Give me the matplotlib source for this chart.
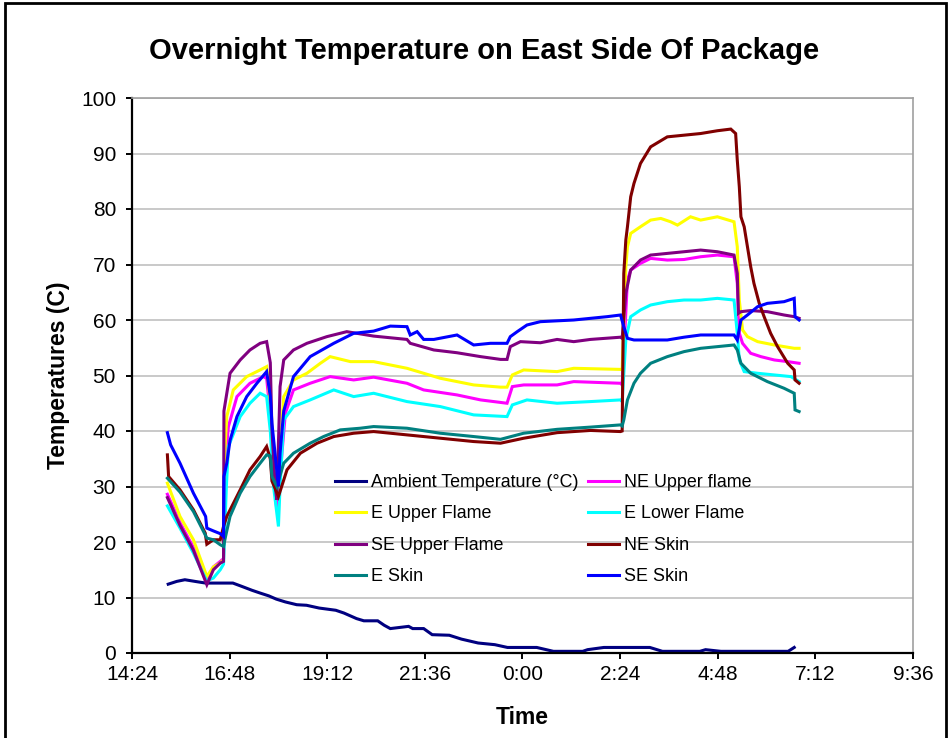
import numpy as np
import matplotlib
matplotlib.use("Agg")
import matplotlib.pyplot as plt
from matplotlib.ticker import FuncFormatter, MultipleLocator
from matplotlib.patches import Rectangle

plt.rcParams['font.family'] = ['Liberation Sans', 'DejaVu Sans']

# time in hours from midnight of the first day (24.0 = 0:00 next day)
amb_t = [15.29, 15.50, 15.70, 15.95, 16.21, 16.88, 17.10, 17.35, 17.55, 17.76, 17.95, 18.17,
         18.45, 18.69, 19.00, 19.41, 19.61, 19.92, 20.10, 20.44, 20.60, 20.75, 21.20, 21.30,
         21.57, 21.78, 22.20, 22.50, 22.91, 23.32, 23.63, 24.35, 24.76, 25.48, 25.60, 26.00,
         27.13, 27.44, 28.36, 28.50, 28.88, 30.53, 30.68]
amb_v = [12.4, 12.9, 13.2, 12.9, 12.6, 12.6, 12.0, 11.3, 10.8, 10.3, 9.7, 9.2,
         8.7, 8.6, 8.1, 7.7, 7.2, 6.2, 5.8, 5.8, 5.0, 4.4, 4.8, 4.4,
         4.4, 3.3, 3.2, 2.5, 1.8, 1.5, 1.0, 1.0, 0.3, 0.3, 0.6, 1.0,
         1.0, 0.3, 0.3, 0.6, 0.3, 0.3, 1.0]

neu_t = [15.27, 15.58, 15.91, 16.24, 16.40, 16.57, 16.65, 16.70, 16.77, 16.98, 17.30, 17.63,
         17.71, 17.80, 17.88, 17.96, 18.04, 18.17, 18.37, 18.78, 19.27, 19.85, 20.34, 21.16,
         21.57, 22.39, 22.97, 23.62, 23.75, 24.03, 24.85, 25.26, 26.41, 26.45, 26.58, 26.66,
         26.90, 27.15, 27.56, 27.97, 28.38, 28.79, 29.20, 29.28, 29.33, 29.41, 29.61, 29.86,
         30.19, 30.52, 30.80]
neu_v = [28.6, 23.5, 19.0, 13.2, 15.5, 16.5, 17.0, 35.0, 40.8, 46.2, 48.6, 49.8,
         49.5, 43.0, 32.0, 25.8, 32.0, 43.2, 47.4, 48.6, 49.8, 49.2, 49.7, 48.6,
         47.4, 46.5, 45.6, 45.0, 48.0, 48.3, 48.3, 48.9, 48.6, 48.3, 67.2, 69.0,
         70.2, 71.1, 70.8, 70.9, 71.4, 71.7, 71.4, 66.6, 57.6, 55.8, 54.0, 53.4,
         52.8, 52.5, 52.2]

eu_t = [15.27, 15.58, 15.91, 16.24, 16.40, 16.57, 16.65, 16.68, 16.73, 16.89, 17.22, 17.55,
        17.71, 17.80, 17.88, 17.96, 18.04, 18.13, 18.37, 18.70, 19.03, 19.27, 19.77, 20.34,
        21.16, 21.98, 22.80, 23.46, 23.62, 23.75, 24.03, 24.85, 25.26, 26.41, 26.45, 26.54,
        26.58, 26.66, 26.90, 27.15, 27.40, 27.64, 27.81, 28.13, 28.38, 28.79, 29.20, 29.28,
        29.33, 29.41, 29.53, 29.78, 30.19, 30.68, 30.80]
eu_v = [30.6, 24.6, 20.4, 13.8, 15.5, 16.2, 16.8, 36.0, 42.6, 47.4, 49.8, 51.0,
        51.6, 45.0, 34.2, 27.6, 36.0, 46.2, 49.2, 50.4, 52.2, 53.4, 52.5, 52.5,
        51.3, 49.5, 48.3, 47.9, 47.9, 50.1, 51.0, 50.7, 51.3, 51.1, 51.0, 69.6,
        73.2, 75.6, 76.8, 78.0, 78.3, 77.7, 77.1, 78.6, 78.0, 78.6, 77.7, 73.2,
        63.6, 58.2, 57.0, 56.1, 55.5, 54.9, 54.9]

el_t = [15.27, 15.58, 15.91, 16.24, 16.40, 16.57, 16.65, 16.72, 16.77, 17.06, 17.30, 17.55,
        17.71, 17.80, 17.88, 18.00, 18.04, 18.13, 18.37, 18.78, 19.36, 19.85, 20.34, 21.16,
        21.98, 22.80, 23.62, 23.75, 24.11, 24.85, 25.67, 26.41, 26.45, 26.54, 26.66, 26.90,
        27.15, 27.56, 27.97, 28.38, 28.79, 29.20, 29.28, 29.33, 29.45, 29.78, 30.19, 30.60,
        30.80]
el_v = [26.5, 22.5, 18.0, 13.0, 13.5, 15.0, 16.0, 30.0, 37.2, 42.6, 45.0, 46.8,
        46.2, 40.0, 30.0, 22.8, 30.0, 42.0, 44.4, 45.6, 47.4, 46.2, 46.8, 45.3,
        44.4, 42.9, 42.6, 44.7, 45.6, 45.0, 45.3, 45.6, 45.3, 56.4, 60.6, 61.8,
        62.7, 63.3, 63.6, 63.6, 63.9, 63.6, 57.6, 52.8, 50.7, 50.4, 50.1, 49.8,
        48.9]

seu_t = [15.27, 15.58, 15.91, 16.24, 16.40, 16.57, 16.65, 16.66, 16.81, 17.06, 17.30, 17.55,
         17.71, 17.80, 17.84, 17.92, 17.96, 18.04, 18.13, 18.37, 18.70, 19.19, 19.68, 20.34,
         21.16, 21.24, 21.82, 22.39, 22.97, 23.46, 23.62, 23.70, 23.95, 24.44, 24.85, 25.26,
         25.67, 26.41, 26.45, 26.54, 26.66, 26.90, 27.15, 27.56, 27.97, 28.38, 28.79, 29.20,
         29.28, 29.31, 29.37, 29.61, 30.02, 30.43, 30.68, 30.80]
seu_v = [28.0, 23.0, 18.5, 12.3, 15.0, 16.2, 16.5, 43.6, 50.4, 52.8, 54.6, 55.8,
         56.1, 52.3, 40.2, 30.0, 27.6, 48.0, 52.8, 54.6, 55.8, 57.0, 57.9, 57.1,
         56.5, 55.8, 54.6, 54.1, 53.4, 52.9, 52.9, 55.2, 56.1, 55.9, 56.5, 56.1,
         56.5, 56.9, 56.7, 64.8, 69.0, 70.8, 71.7, 72.0, 72.3, 72.6, 72.3, 71.7,
         68.4, 61.2, 61.5, 61.7, 61.5, 60.9, 60.6, 60.3]

nes_t = [15.27, 15.30, 15.58, 15.91, 16.20, 16.24, 16.40, 16.57, 16.65, 16.73, 17.06, 17.30,
         17.55, 17.71, 17.80, 17.84, 18.00, 18.21, 18.54, 18.95, 19.36, 19.85, 20.34, 21.16,
         21.98, 22.80, 23.46, 24.03, 24.85, 25.67, 26.41, 26.45, 26.49, 26.54, 26.58, 26.66,
         26.74, 26.90, 27.15, 27.56, 27.97, 28.38, 28.79, 29.12, 29.24, 29.28, 29.33, 29.37,
         29.45, 29.53, 29.61, 29.69, 29.82, 29.94, 30.10, 30.27, 30.52, 30.68, 30.70, 30.80]
nes_v = [35.7, 31.8, 29.4, 25.8, 21.6, 19.6, 20.4, 20.4, 22.8, 24.6, 29.4, 33.0,
         35.4, 37.2, 35.0, 31.0, 28.2, 33.0, 36.0, 37.8, 39.0, 39.6, 39.9, 39.3,
         38.7, 38.1, 37.8, 38.7, 39.7, 40.1, 39.9, 40.0, 68.4, 74.4, 76.8, 82.2,
         84.6, 88.2, 91.2, 93.0, 93.3, 93.6, 94.1, 94.4, 93.6, 88.8, 84.0, 78.6,
         76.8, 73.2, 69.6, 66.6, 63.0, 60.6, 57.6, 55.2, 52.2, 51.0, 49.2, 48.6]

es_t = [15.27, 15.58, 15.91, 16.24, 16.40, 16.57, 16.65, 16.70, 16.81, 17.06, 17.30, 17.55,
        17.71, 17.80, 17.84, 17.96, 18.13, 18.37, 18.78, 19.11, 19.52, 20.01, 20.34, 21.16,
        21.98, 22.80, 23.46, 24.03, 24.85, 25.67, 26.41, 26.45, 26.49, 26.58, 26.74, 26.90,
        27.15, 27.56, 27.97, 28.38, 28.79, 29.20, 29.28, 29.37, 29.61, 30.02, 30.43, 30.68,
        30.70, 30.80]
es_v = [31.5, 29.0, 25.5, 20.7, 20.4, 19.5, 19.2, 21.0, 24.6, 28.8, 31.8, 34.2,
        35.7, 35.5, 31.8, 30.0, 34.2, 36.0, 37.8, 39.0, 40.2, 40.5, 40.8, 40.5,
        39.6, 39.0, 38.5, 39.6, 40.3, 40.7, 41.1, 40.9, 42.0, 45.6, 48.6, 50.4,
        52.2, 53.4, 54.3, 54.9, 55.2, 55.5, 54.6, 52.2, 50.4, 48.9, 47.7, 46.8,
        43.8, 43.5]

ses_t = [15.27, 15.35, 15.58, 15.91, 16.21, 16.24, 16.40, 16.57, 16.65, 16.66, 16.73, 16.81,
         16.98, 17.22, 17.47, 17.71, 17.80, 17.84, 18.00, 18.04, 18.13, 18.37, 18.78, 19.36,
         19.85, 20.34, 20.75, 21.16, 21.24, 21.41, 21.57, 21.82, 22.39, 22.80, 23.21, 23.62,
         23.70, 23.87, 24.11, 24.44, 25.26, 26.08, 26.41, 26.49, 26.58, 26.74, 27.56, 27.97,
         28.38, 29.20, 29.28, 29.37, 29.53, 29.78, 30.02, 30.43, 30.68, 30.70, 30.80]
ses_v = [39.7, 37.5, 34.2, 28.8, 24.6, 22.5, 22.0, 21.5, 21.0, 31.8, 34.2, 38.3,
         42.6, 46.2, 48.6, 50.7, 46.2, 41.4, 30.0, 36.0, 43.6, 49.8, 53.4, 55.8,
         57.6, 58.0, 58.9, 58.8, 57.3, 57.9, 56.5, 56.5, 57.3, 55.5, 55.8, 55.8,
         57.0, 57.9, 59.1, 59.7, 60.0, 60.6, 60.9, 58.8, 56.7, 56.4, 56.4, 56.9,
         57.3, 57.3, 56.4, 60.0, 60.9, 62.4, 63.0, 63.3, 63.9, 60.6, 60.0]

series = [
    ("Ambient Temperature (°C)", amb_t, amb_v, "#000080"),
    ("NE Upper flame", neu_t, neu_v, "#FF00FF"),
    ("E Upper Flame", eu_t, eu_v, "#FFFF00"),
    ("E Lower Flame", el_t, el_v, "#00FFFF"),
    ("SE Upper Flame", seu_t, seu_v, "#800080"),
    ("NE Skin", nes_t, nes_v, "#800000"),
    ("E Skin", es_t, es_v, "#008080"),
    ("SE Skin", ses_t, ses_v, "#0000FF"),
]

fig = plt.figure(figsize=(9.5, 7.38), dpi=100)
ax = fig.add_axes([132/950, 1-653/738, (913-132)/950, (653-98)/738])

lines = {}
for name, t, v, c in series:
    ln, = ax.plot(t, v, color=c, linewidth=2.2, label=name, solid_joinstyle='miter')
    lines[name] = ln

ax.set_xlim(14.4, 33.6)
ax.set_ylim(0, 100)
ax.set_xticks(np.arange(14.4, 33.7, 2.4))
ax.yaxis.set_major_locator(MultipleLocator(10))


def fmt_time(x, pos):
    mins = int(round(x * 60)) % (24 * 60)
    return "%d:%02d" % (mins // 60, mins % 60)


ax.xaxis.set_major_formatter(FuncFormatter(fmt_time))
ax.grid(axis='y', color='#c0c0c0', linewidth=1.2)
ax.set_axisbelow(True)
for s in ['top', 'right']:
    ax.spines[s].set_color('#a0a0a0')
    ax.spines[s].set_linewidth(1.2)
for s in ['left', 'bottom']:
    ax.spines[s].set_color('black')
    ax.spines[s].set_linewidth(1.6)
ax.tick_params(axis='both', direction='out', length=4.5, width=1.4, labelsize=15)
ax.tick_params(axis='x', pad=4)
ax.tick_params(axis='y', pad=7)

ax.set_xlabel("Time", fontsize=16.5, fontweight='bold', labelpad=16)
ax.set_ylabel("Temperatures (C)", fontsize=16.5, fontweight='bold', labelpad=8)
fig.text(484/950, 1-51/738, "Overnight Temperature on East Side Of Package",
         ha='center', va='center', fontsize=21, fontweight='bold')

order = ["Ambient Temperature (°C)", "E Upper Flame", "SE Upper Flame", "E Skin",
         "NE Upper flame", "E Lower Flame", "NE Skin", "SE Skin"]
ax.legend([lines[n] for n in order], order, ncol=2, frameon=False,
          loc='upper left', bbox_to_anchor=(319/950, 1-458/738),
          bbox_transform=fig.transFigure, fontsize=12.9, handlelength=1.7,
          labelspacing=0.8, columnspacing=0.56, handletextpad=0.3)

fig.patches.append(Rectangle((5/950, -0.05), (946-5)/950, 1.05 - 3/738,
                             transform=fig.transFigure, fill=False,
                             edgecolor='black', linewidth=2))

fig.savefig("out.png", dpi=100)
